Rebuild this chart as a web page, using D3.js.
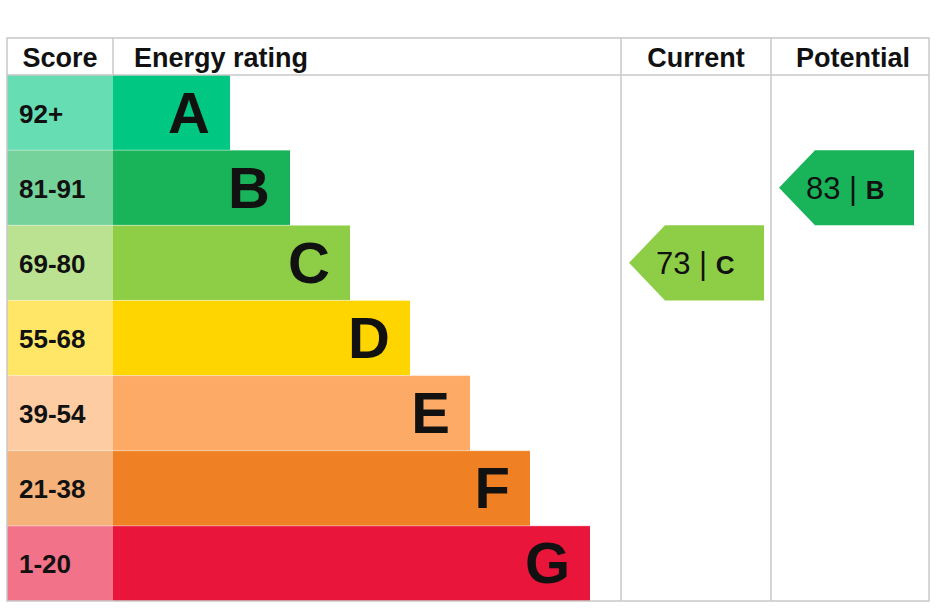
<!DOCTYPE html>
<html><head><meta charset="utf-8">
<script src="https://cdn.jsdelivr.net/npm/d3@7"></script>
<style>body{margin:0;background:#fff}</style></head>
<body><div id="chart"></div>
<script>
const bands = ['A', 'B', 'C', 'D', 'E', 'F', 'G']
const scores = ['92+', '81-91', '69-80', '55-68', '39-54', '21-38', '1-20']
const colors = ['#00c781', '#19b459', '#8dce46', '#ffd500', '#fcaa65', '#ef8023', '#e9153b']
const barLengths = [1, 2, 3, 4, 5, 6, 7]
const current = { value: 73, band: 'C' }
const potential = { value: 83, band: 'B' }

const dims = { width: 938, height: 615, left: 7, right: 929, top: 38, header: 37, scoreW: 106, bandEnd: 621, curEnd: 771 }

const svg = d3.select('#chart').append('svg').attr('width', dims.width).attr('height', dims.height)
const font = 'Liberation Sans, Arial, sans-serif'

const y = d3.scaleBand().domain(bands).range([dims.top + dims.header, 601])
const barX = d3.scaleLinear().domain([0, 7]).range([113, 591]).clamp(false)
const barScale = (n) => 113 + 57 + n * 60 - 57 + 57 - 57 // A ends ~230
const barEnd = (n) => 170 + n * 60

// score cells
svg.selectAll('.score').data(bands).join('rect')
  .attr('x', dims.left).attr('y', (d) => y(d)).attr('width', dims.scoreW).attr('height', y.bandwidth())
  .attr('fill', (d, i) => colors[i]).attr('fill-opacity', 0.6)
svg.selectAll('.scoreTxt').data(bands).join('text')
  .attr('x', 19).attr('y', (d) => y(d) + y.bandwidth() / 2 + 10)
  .attr('font-family', font).attr('font-weight', 'bold').attr('font-size', 26).attr('fill', '#111')
  .text((d, i) => scores[i])

// bars
svg.selectAll('.bar').data(bands).join('rect')
  .attr('x', 113).attr('y', (d) => y(d)).attr('width', (d, i) => barEnd(barLengths[i]) - 113).attr('height', y.bandwidth())
  .attr('fill', (d, i) => colors[i])
svg.selectAll('.barTxt').data(bands).join('text')
  .attr('x', (d, i) => barEnd(barLengths[i]) - 20).attr('y', (d) => y(d) + y.bandwidth() / 2 + 20)
  .attr('text-anchor', 'end').attr('font-family', font).attr('font-weight', 'bold').attr('font-size', 58).attr('fill', '#111')
  .text((d) => d)

// row separators (thin white)
svg.selectAll('.sep').data(bands.slice(1)).join('line')
  .attr('x1', dims.left).attr('x2', 591).attr('y1', (d) => y(d)).attr('y2', (d) => y(d))
  .attr('stroke', '#fff').attr('stroke-opacity', 0.4).attr('stroke-width', 1)

// grid
const g = svg.append('g').attr('stroke', '#c8c8c8').attr('stroke-width', 1.5).attr('fill', 'none')
g.append('rect').attr('x', dims.left).attr('y', dims.top).attr('width', dims.right - dims.left).attr('height', 601 - dims.top)
g.append('line').attr('x1', dims.left).attr('x2', dims.right).attr('y1', dims.top + dims.header).attr('y2', dims.top + dims.header)
;[113, dims.bandEnd, dims.curEnd].forEach((x) => {
  g.append('line').attr('x1', x).attr('x2', x).attr('y1', dims.top).attr('y2', x === 113 ? dims.top + dims.header : 601)
})

// headers
const headers = [['Score', 60, 'middle'], ['Energy rating', 134, 'start'], ['Current', 696, 'middle'], ['Potential', 853, 'middle']]
svg.selectAll('.hdr').data(headers).join('text')
  .attr('x', (d) => d[1]).attr('y', dims.top + 29).attr('text-anchor', (d) => d[2])
  .attr('font-family', font).attr('font-weight', 'bold').attr('font-size', 27).attr('fill', '#111')
  .text((d) => d[0])

// arrows
const arrow = (rating, x0, x1) => {
  const i = bands.indexOf(rating.band)
  const top = y(rating.band), h = y.bandwidth()
  svg.append('path')
    .attr('d', `M${x0},${top + h / 2} L${x0 + 36},${top} L${x1},${top} L${x1},${top + h} L${x0 + 36},${top + h} Z`)
    .attr('fill', colors[i])
  const t = svg.append('text').attr('x', x0 + 27).attr('y', top + h / 2 + 11)
    .attr('font-family', font).attr('font-size', 31).attr('fill', '#111')
  t.append('tspan').text(`${rating.value} |  `)
  t.append('tspan').attr('font-weight', 'bold').attr('font-size', 26).text(rating.band)
}
arrow(current, 629, 764)
arrow(potential, 779, 914)
</script></body></html>
